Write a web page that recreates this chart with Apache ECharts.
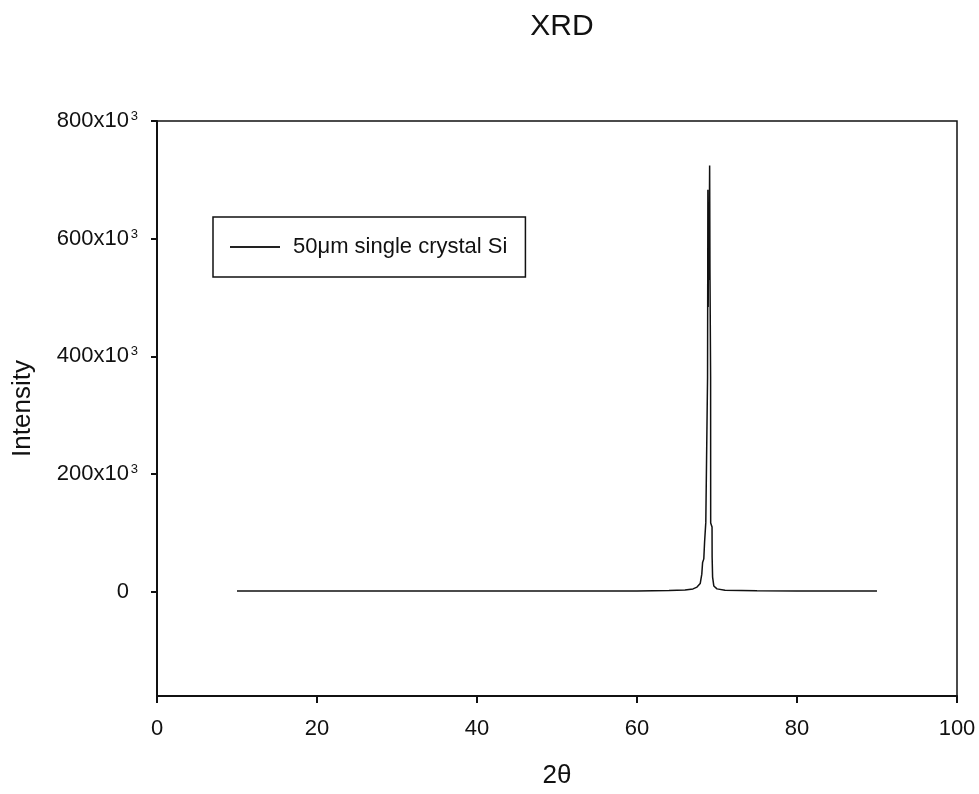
<!DOCTYPE html>
<html>
<head>
<meta charset="utf-8">
<script src="https://cdn.jsdelivr.net/npm/echarts@6/dist/echarts.min.js"></script>
<style>html,body{margin:0;padding:0;background:#fff;}#c{width:979px;height:794px;}</style>
</head>
<body>
<div id="c"></div>
<script>
const titleText = 'XRD';
const seriesName = '50\u03bcm single crystal Si';
const xTicks = [0, 20, 40, 60, 80, 100];
const yTickValues = [0, 200000, 400000, 600000, 800000];
const yTickLabels = ['0', '200x10', '400x10', '600x10', '800x10'];
const yTickExponents = ['', '3', '3', '3', '3'];
const twoTheta = [10, 19.9, 20, 20.1, 30, 40, 50, 60, 64, 66, 67, 67.5, 67.9, 68.1, 68.2, 68.35, 68.45, 68.6, 68.82, 68.86, 68.9, 68.95, 69.0, 69.08, 69.12, 69.2, 69.21, 69.38, 69.39, 69.45, 69.6, 70.0, 71, 75, 80, 90];
const intensity = [1200, 1300, 2500, 1300, 1200, 1200, 1300, 1600, 2200, 3000, 5000, 8000, 14000, 30000, 50000, 56000, 85000, 118000, 364000, 683000, 484000, 640000, 530000, 724500, 547000, 364000, 117000, 110000, 60000, 25000, 10000, 5000, 2500, 1800, 1500, 1200];

const chart = echarts.init(document.getElementById('c'));
const font = 'Liberation Sans, Arial, sans-serif';
chart.setOption({
  animation: false,
  backgroundColor: '#fff',
  title: {
    text: titleText, left: 557, top: 7, textAlign: 'center',
    textStyle: { fontFamily: font, fontSize: 30, fontWeight: 'normal', color: '#111' }
  },
  legend: {
    left: 213, top: 217,
    padding: [19, 18, 19, 17],
    borderColor: '#111', borderWidth: 1.5, borderRadius: 0,
    itemWidth: 50, itemHeight: 14,
    itemStyle: { color: '#222' },
    textStyle: { fontFamily: font, fontSize: 22, color: '#111', padding: [0, 0, 0, 8] },
    data: [{ name: seriesName, icon: 'path://M0,0 L50,0 L50,2 L0,2 Z' }]
  },
  grid: { left: 157, right: 22, top: 121, bottom: 98, show: true, borderColor: '#111', borderWidth: 1.5 },
  xAxis: {
    type: 'value', min: 0, max: 100, interval: 20,
    name: '2\u03b8', nameLocation: 'middle', nameGap: 67,
    nameTextStyle: { fontFamily: font, fontSize: 26, color: '#111' },
    axisLine: { show: true, onZero: false, lineStyle: { color: '#111', width: 2 } },
    axisTick: { show: true, inside: false, length: 7, lineStyle: { color: '#111', width: 2 } },
    axisLabel: { fontFamily: font, fontSize: 22, color: '#111', margin: 22,
      customValues: xTicks },
    splitLine: { show: false }
  },
  yAxis: {
    type: 'value', min: -177000, max: 800000,
    name: 'Intensity', nameLocation: 'middle', nameGap: 121,
    nameTextStyle: { fontFamily: font, fontSize: 26, color: '#111' },
    axisLine: { show: true, onZero: false, lineStyle: { color: '#111', width: 2 } },
    axisTick: { show: true, inside: false, length: 6, lineStyle: { color: '#111', width: 2 },
      customValues: yTickValues },
    axisLabel: { fontFamily: font, color: '#111', margin: 19,
      customValues: yTickValues,
      formatter: function (v) {
        const i = yTickValues.indexOf(v);
        if (i < 0) return '';
        return '{a|' + yTickLabels[i] + '}{s|' + (yTickExponents[i] || ' ') + '}';
      },
      rich: {
        a: { fontFamily: font, fontSize: 22, color: '#111', lineHeight: 24 },
        s: { fontFamily: font, fontSize: 13, color: '#111', width: 9, verticalAlign: 'top', lineHeight: 14, padding: [1, 0, 0, 0] }
      }
    },
    splitLine: { show: false }
  },
  series: [{
    name: seriesName, type: 'line', symbol: 'none',
    lineStyle: { color: '#111', width: 1.5 },
    itemStyle: { color: '#111' },
    data: twoTheta.map((x, i) => [x, intensity[i]])
  }]
});
</script>
</body>
</html>
